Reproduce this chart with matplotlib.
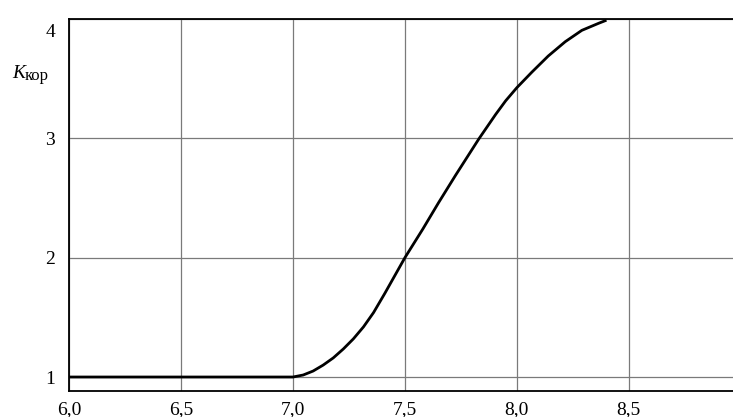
import matplotlib
matplotlib.use("Agg")
import matplotlib.pyplot as plt
from matplotlib.transforms import ScaledTranslation

x_vals = [6.0, 7.0, 7.046, 7.09, 7.135, 7.18, 7.225, 7.27, 7.315, 7.36, 7.41,
          7.455, 7.5, 7.58, 7.65, 7.726, 7.83, 7.905, 7.95, 8.0, 8.067, 8.14,
          8.216, 8.29, 8.366, 8.40]
y_vals = [1.0, 1.0, 1.017, 1.05, 1.10, 1.16, 1.235, 1.32, 1.42, 1.54, 1.70,
          1.85, 2.0, 2.24, 2.46, 2.69, 2.995, 3.20, 3.315, 3.425, 3.555, 3.69,
          3.81, 3.905, 3.965, 3.99]

x_ticks = [6.0, 6.5, 7.0, 7.5, 8.0, 8.5]
x_tick_labels = ["6,0", "6,5", "7,0", "7,5", "8,0", "8,5"]
y_ticks = [1, 2, 3, 4]
y_tick_labels = ["1", "2", "3", "4"]

plt.rcParams['font.family'] = ['Liberation Serif', 'DejaVu Serif']

fig = plt.figure(figsize=(7.33, 4.17), dpi=100)
ax = fig.add_axes([0.0941, 0.0624, 0.9059, 0.892])

ax.plot(x_vals, y_vals, color="black", lw=2.0, solid_capstyle="butt",
        solid_joinstyle="round", zorder=3)

ax.set_xlim(6.0, 8.965)
ax.set_ylim(0.883, 4.0)
ax.set_xticks(x_ticks)
ax.set_xticklabels(x_tick_labels, fontsize=14)
ax.set_yticks(y_ticks)
ax.set_yticklabels(y_tick_labels, fontsize=14)
ax.tick_params(axis="both", length=0)
ax.tick_params(axis="x", pad=7)
ax.tick_params(axis="y", pad=10)
ax.grid(True, color="#7a7a7a", lw=0.9)
ax.set_axisbelow(True)

for s in ["left", "bottom", "top"]:
    ax.spines[s].set_linewidth(1.3)
    ax.spines[s].set_color("black")
ax.spines["right"].set_visible(False)

# shift top y label slightly down as in reference
top_tick = ax.yaxis.get_major_ticks()[-1]
top_tick.label1.set_transform(top_tick.label1.get_transform() +
                              ScaledTranslation(0, -8 / 72, fig.dpi_scale_trans))

fig.text(12 / 733, 1 - 78 / 417, "K", fontsize=14, style="italic", ha="left", va="baseline")
fig.text(25 / 733, 1 - 80 / 417, "кор", fontsize=12, ha="left", va="baseline")

fig.savefig("out.png", dpi=100)
